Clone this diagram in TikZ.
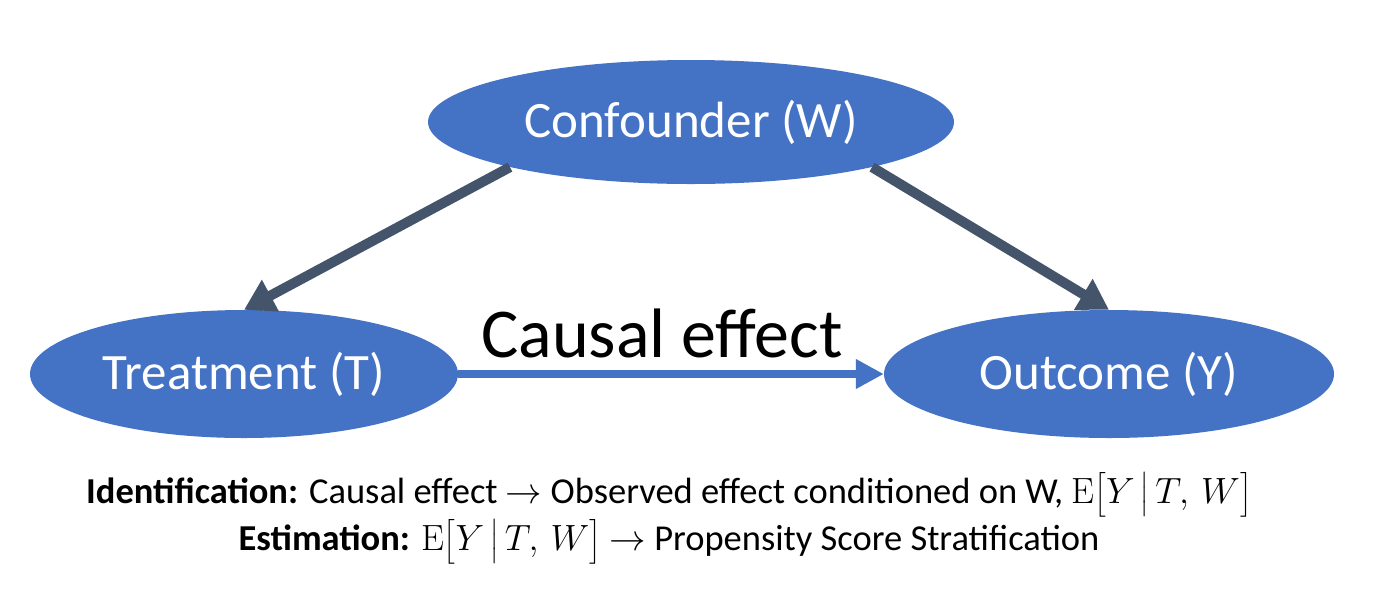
\RequirePackage{fix-cm}
\documentclass[tikz,border=0pt]{standalone}
\usepackage{amsmath}
\usepackage{fontspec}
\setmainfont{Carlito}
\setmathrm{Latin Modern Roman}
\usetikzlibrary{arrows.meta,shapes.geometric}
\definecolor{nodeblue}{HTML}{4472C4}
\definecolor{slate}{HTML}{44546A}
\newcommand{\ExpTW}{$\mathrm{E}\bigl[Y\,\big|\,T,\,W\bigr]$}
\begin{document}
\begin{tikzpicture}[x=1pt,y=-1pt,
  blob/.style={ellipse,fill=nodeblue,draw=none,inner sep=0pt,text=white,
    font=\fontsize{51}{60}\selectfont},
  darrow/.style={draw=slate,line width=10pt,-{Triangle[length=30pt,width=34pt]}},
  barrow/.style={draw=nodeblue,line width=8pt,-{Triangle[length=28pt,width=28pt]}},
  note/.style={font=\fontsize{36.5}{47}\selectfont,inner sep=0pt,align=center}]
\useasboundingbox (0,0) rectangle (1380,590);
\fill[white] (0,0) rectangle (1380,590);
\node[blob,minimum width=526pt,minimum height=124pt] (conf) at (691,122) {Confounder (W)};
\node[blob,minimum width=428pt,minimum height=128pt] (treat) at (244,374) {Treatment (T)};
\node[blob,minimum width=450pt,minimum height=128pt] (out) at (1109,374) {Outcome (Y)};
\draw[darrow] (conf.194) -- (treat.north);
\draw[darrow] (conf.-14) -- (out.north);
\draw[barrow] (treat.east) -- (out.west);
\node[font=\fontsize{70}{80}\selectfont,inner sep=0pt] (ce) at (662,333) {Causal effect};
\node[note] (notes) at (669,518) {\textbf{Identification:} Causal effect $\to$ Observed effect conditioned on W, \ExpTW\\
\textbf{Estimation:} \ExpTW\ $\to$ Propensity Score Stratification};
\end{tikzpicture}
\end{document}
